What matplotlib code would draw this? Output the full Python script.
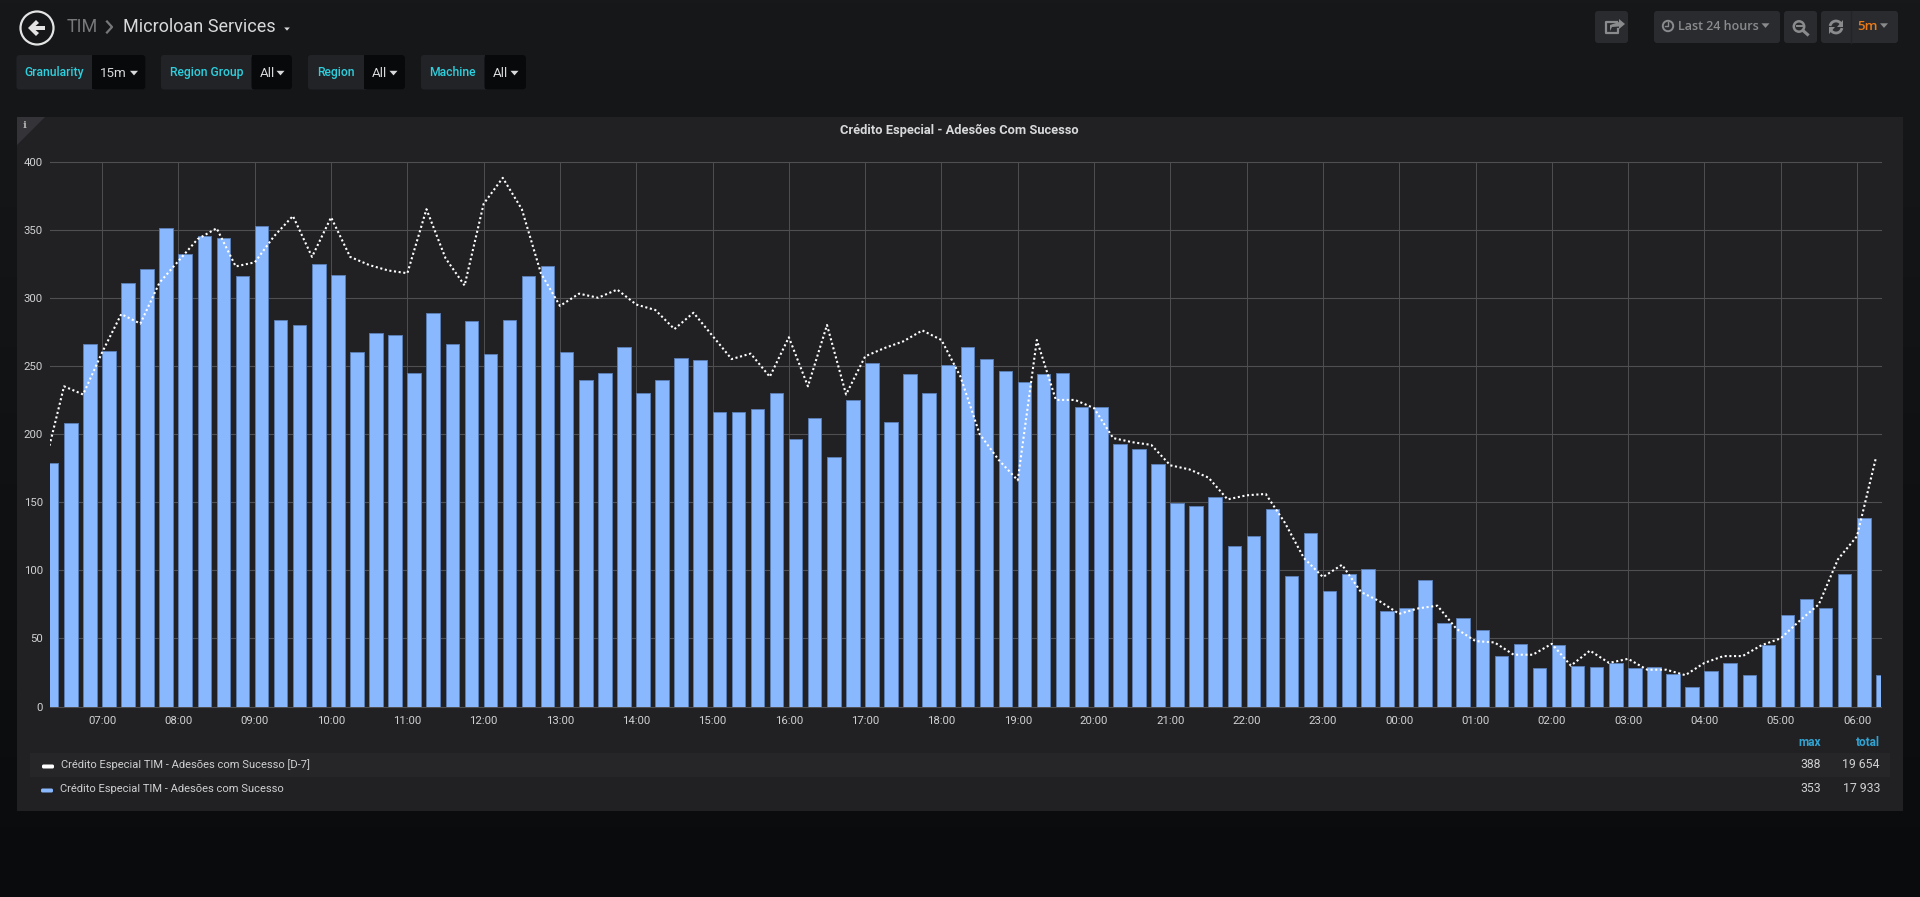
import numpy as np
import pandas as pd
import matplotlib
matplotlib.use('Agg')
import matplotlib.pyplot as plt
import matplotlib.dates as mdates
from matplotlib.patches import Circle, FancyBboxPatch, Polygon, Rectangle, Arc

plt.rcParams['font.family'] = ['Roboto', 'DejaVu Sans']

# values, one per 15 minutes from 06:15 to 06:15
current = [179, 208, 266, 261, 311, 321, 351, 332, 345, 344, 316, 353, 284, 280, 325, 317,
           260, 274, 273, 245, 289, 266, 283, 259, 284, 316, 323, 260, 240, 245, 264, 230,
           240, 256, 254, 216, 216, 218, 230, 196, 212, 183, 225, 252, 209, 244, 230, 251,
           264, 255, 246, 238, 244, 245, 220, 220, 193, 189, 178, 149, 147, 154, 118, 125,
           145, 96, 127, 85, 97, 101, 70, 72, 93, 61, 65, 56, 37, 46, 28, 45,
           30, 29, 32, 28, 29, 24, 14, 26, 32, 23, 45, 67, 79, 72, 97, 138, 23]
last_week = [178, 235, 229, 260, 288, 281, 311, 327, 343, 351, 323, 326, 345, 360, 330, 359,
             330, 324, 320, 318, 365, 329, 309, 369, 388, 365, 318, 294, 303, 300, 306, 295,
             291, 277, 289, 272, 255, 259, 242, 271, 235, 280, 229, 257, 263, 268, 276, 269,
             242, 200, 181, 166, 269, 225, 225, 219, 197, 194, 192, 177, 174, 168, 152, 155,
             156, 135, 109, 95, 104, 84, 77, 68, 72, 74, 57, 48, 47, 38, 38, 46,
             30, 41, 32, 35, 27, 27, 23, 32, 37, 37, 45, 50, 63, 75, 108, 125, 183]
times = pd.date_range('2019-03-04 06:15', periods=len(current), freq='15min')

y_ticks = [0, 50, 100, 150, 200, 250, 300, 350, 400]
series_names = ['Crédito Especial TIM - Adesões com Sucesso [D-7]',
                'Crédito Especial TIM - Adesões com Sucesso']
series_max = ['388', '353']
series_total = ['19 654', '17 933']
template_vars = [('Granularity', '15m'), ('Region Group', 'All'), ('Region', 'All'), ('Machine', 'All')]

W, H = 1920, 897
BLUE = '#8ab8ff'
TEXT = '#d8d9da'
CYAN = '#2dd0de'


def box(ax, x0, y0, x1, y1, color, r=3, z=2):
    ax.add_patch(FancyBboxPatch((x0, y0), x1 - x0, y1 - y0, boxstyle=f'round,pad=0,rounding_size={r}',
                                fc=color, ec='none', zorder=z))


def caret(ax, x, y, color, s=4):
    ax.add_patch(Polygon([(x - s, y - s * 0.55), (x + s, y - s * 0.55), (x, y + s * 0.6)], fc=color, ec='none', zorder=5))


fig = plt.figure(figsize=(W / 100, H / 100), dpi=100, facecolor='#0b0c0e')

# page chrome, in pixel coordinates
bg = fig.add_axes([0, 0, 1, 1])
top_col = np.array(matplotlib.colors.to_rgb('#17181a'))
bot_col = np.array(matplotlib.colors.to_rgb('#0a0b0d'))
grad = np.linspace(0, 1, 256)[:, None, None] * (bot_col - top_col) + top_col
bg.imshow(grad, extent=(0, W, H, 0), aspect='auto', zorder=0)
bg.set_xlim(0, W)
bg.set_ylim(H, 0)
bg.axis('off')

# header
bg.add_patch(Circle((37, 28), 16.5, fc='none', ec='#e4e4e4', lw=1.6, zorder=3))
bg.add_patch(Polygon([(28, 28), (36, 20), (39, 23), (35.5, 26), (45, 26), (45, 30), (35.5, 30), (39, 33), (36, 36)],
                     fc='#e4e4e4', ec='none', zorder=3))
bg.text(67, 27.5, 'TIM', color='#77787a', fontsize=13, va='center', ha='left')
bg.plot([107, 112, 107], [21.5, 27, 32.5], color='#77787a', lw=1.6, zorder=3)
bg.text(123, 27.5, 'Microloan Services', color=TEXT, fontsize=13, va='center', ha='left')
caret(bg, 287, 29, '#d8d9da', 2.8)

# template variables
var_geom = [(16.5, 92.4, 145.5), (161, 251.5, 292), (308, 364, 405), (421, 484.5, 526)]
for (label, value), (x0, x1, x2) in zip(template_vars, var_geom):
    box(bg, x0, 55, x2, 89.5, '#212327', r=3)
    box(bg, x1, 55, x2, 89.5, '#08090b', r=3)
    bg.add_patch(Rectangle((x1, 55), 4, 34.5, fc='#08090b', ec='none', zorder=3))
    bg.text((x0 + x1) / 2, 72.5, label, color=CYAN, fontsize=8.7, fontweight='medium', va='center', ha='center', zorder=4)
    bg.text(x1 + 8, 73.5, value, color=TEXT, fontsize=9.6, va='center', ha='left', zorder=4)
    caret(bg, x2 - 11.5, 73, TEXT, 4)

# top right buttons
BTN = '#2a2b2e'
GREY = '#8a8b8d'
box(bg, 1595, 11, 1628, 43, BTN)
box(bg, 1654, 11, 1780, 43, BTN)
box(bg, 1784, 11, 1817, 43, BTN)
box(bg, 1821, 11, 1898, 43, BTN)
bg.plot([1851, 1851], [11, 43], color='#232426', lw=1, zorder=3)
# share
bg.plot([1617, 1606, 1606, 1618, 1618], [22, 22, 33, 33, 29], color=GREY, lw=1.6, zorder=4)
bg.add_patch(Polygon([(1619, 19), (1625, 24), (1619, 29), (1619, 26.5), (1612, 27), (1610, 31), (1610, 25), (1619, 22)],
                     fc=GREY, ec='none', zorder=5))
# clock
bg.add_patch(Circle((1668, 26), 5.2, fc='none', ec=GREY, lw=1.4, zorder=4))
bg.plot([1668, 1668, 1665], [22.5, 26.5, 26.5], color=GREY, lw=1, zorder=4)
bg.text(1678, 26.5, 'Last 24 hours', color=GREY, fontsize=9, fontfamily='Open Sans', fontweight='semibold',
        va='center', ha='left', zorder=4)
caret(bg, 1765.5, 25.5, GREY, 4)
# zoom out
bg.add_patch(Circle((1799, 26.5), 5.2, fc='none', ec=GREY, lw=1.8, zorder=4))
bg.plot([1803, 1807.5], [30.5, 34.5], color=GREY, lw=2.2, zorder=4)
bg.plot([1796.5, 1801.5], [26.5, 26.5], color=GREY, lw=1.4, zorder=4)
# refresh
bg.add_patch(Arc((1836, 27), 12, 12, theta1=190, theta2=340, ec=GREY, lw=2, zorder=4))
bg.add_patch(Arc((1836, 27), 12, 12, theta1=10, theta2=160, ec=GREY, lw=2, zorder=4))
bg.add_patch(Polygon([(1843, 20), (1843, 27), (1837, 27)], fc=GREY, ec='none', zorder=5))
bg.add_patch(Polygon([(1829, 34), (1829, 27), (1835, 27)], fc=GREY, ec='none', zorder=5))
bg.text(1857, 26.5, '5m', color='#eb7b18', fontsize=9.6, fontfamily='Open Sans', fontweight='semibold',
        va='center', ha='left', zorder=4)
caret(bg, 1884, 25.5, GREY, 4)

# panel
bg.add_patch(Rectangle((17, 117), 1886, 694, fc='#212124', ec='none', zorder=1))
bg.add_patch(Polygon([(17, 117), (45, 117), (17, 145)], fc='#333338', ec='none', zorder=2))
bg.text(24.5, 125.5, 'i', color='#b4b4b4', fontsize=7.5, fontfamily='DejaVu Serif', fontweight='bold',
        va='center', ha='center', zorder=3)
bg.text(959, 130, 'Crédito Especial - Adesões Com Sucesso', color=TEXT, fontsize=9.3, fontweight='bold',
        va='center', ha='center', zorder=3)

# legend table
bg.add_patch(Rectangle((30, 753), 1860, 24, fc='#262628', ec='none', zorder=2))
bg.text(1821, 742, 'max', color='#33a2d0', fontsize=8.6, fontweight='bold', va='center', ha='right', zorder=3)
bg.text(1880, 742, 'total', color='#33a2d0', fontsize=8.6, fontweight='bold', va='center', ha='right', zorder=3)
rows = [(764.5, 61, 42, '#ffffff'), (788.5, 59.7, 41, BLUE)]
for name, vmax, total, (ry, tx, sx, col) in zip(series_names, series_max, series_total, rows):
    box(bg, sx, ry, sx + 12, ry + 4, col, r=1.5, z=3)
    bg.text(tx, ry, name, color='#cfd0d1', fontsize=8, va='center', ha='left', zorder=3)
    bg.text(1821, ry, vmax, color='#cfd0d1', fontsize=8.8, va='center', ha='right', zorder=3)
    bg.text(1880, ry, total, color='#cfd0d1', fontsize=8.8, va='center', ha='right', zorder=3)

# chart
ax = fig.add_axes([50 / W, 1 - 706.5 / H, (1881 - 50) / W, (706.5 - 161.5) / H])
ax.patch.set_alpha(0)
hour_px = 76.3
ax.set_axisbelow(True)
ax.bar(times, current, width=(13.5 / hour_px) / 24, align='edge', color=BLUE, edgecolor='#5a7db4', linewidth=0.7, zorder=2)
ax.plot(times, last_week, color='white', lw=1.5, linestyle=(0, (1, 1.25)), zorder=3)

t7 = pd.Timestamp('2019-03-04 07:00')
ax.set_xlim(t7 - pd.Timedelta(hours=52.2 / hour_px), t7 + pd.Timedelta(hours=23 + 24 / hour_px))
ax.set_ylim(0, 400)
ax.set_yticks(y_ticks)
ax.xaxis.set_major_locator(mdates.HourLocator())
ax.xaxis.set_major_formatter(mdates.DateFormatter('%H:%M'))
ax.grid(True, axis='y', color='#4f4f52', lw=0.8)
ax.grid(True, axis='x', color='#4f4f52', lw=0.7)
ax.tick_params(length=0, colors='#d0d1d2', labelsize=8.2)
ax.tick_params(axis='x', pad=6.5)
ax.tick_params(axis='y', pad=5)
for s in ax.spines.values():
    s.set_visible(False)
for gl in ax.get_xgridlines() + ax.get_ygridlines():
    gl.set_clip_on(False)

fig.savefig('out.png', dpi=100, facecolor=fig.get_facecolor())
